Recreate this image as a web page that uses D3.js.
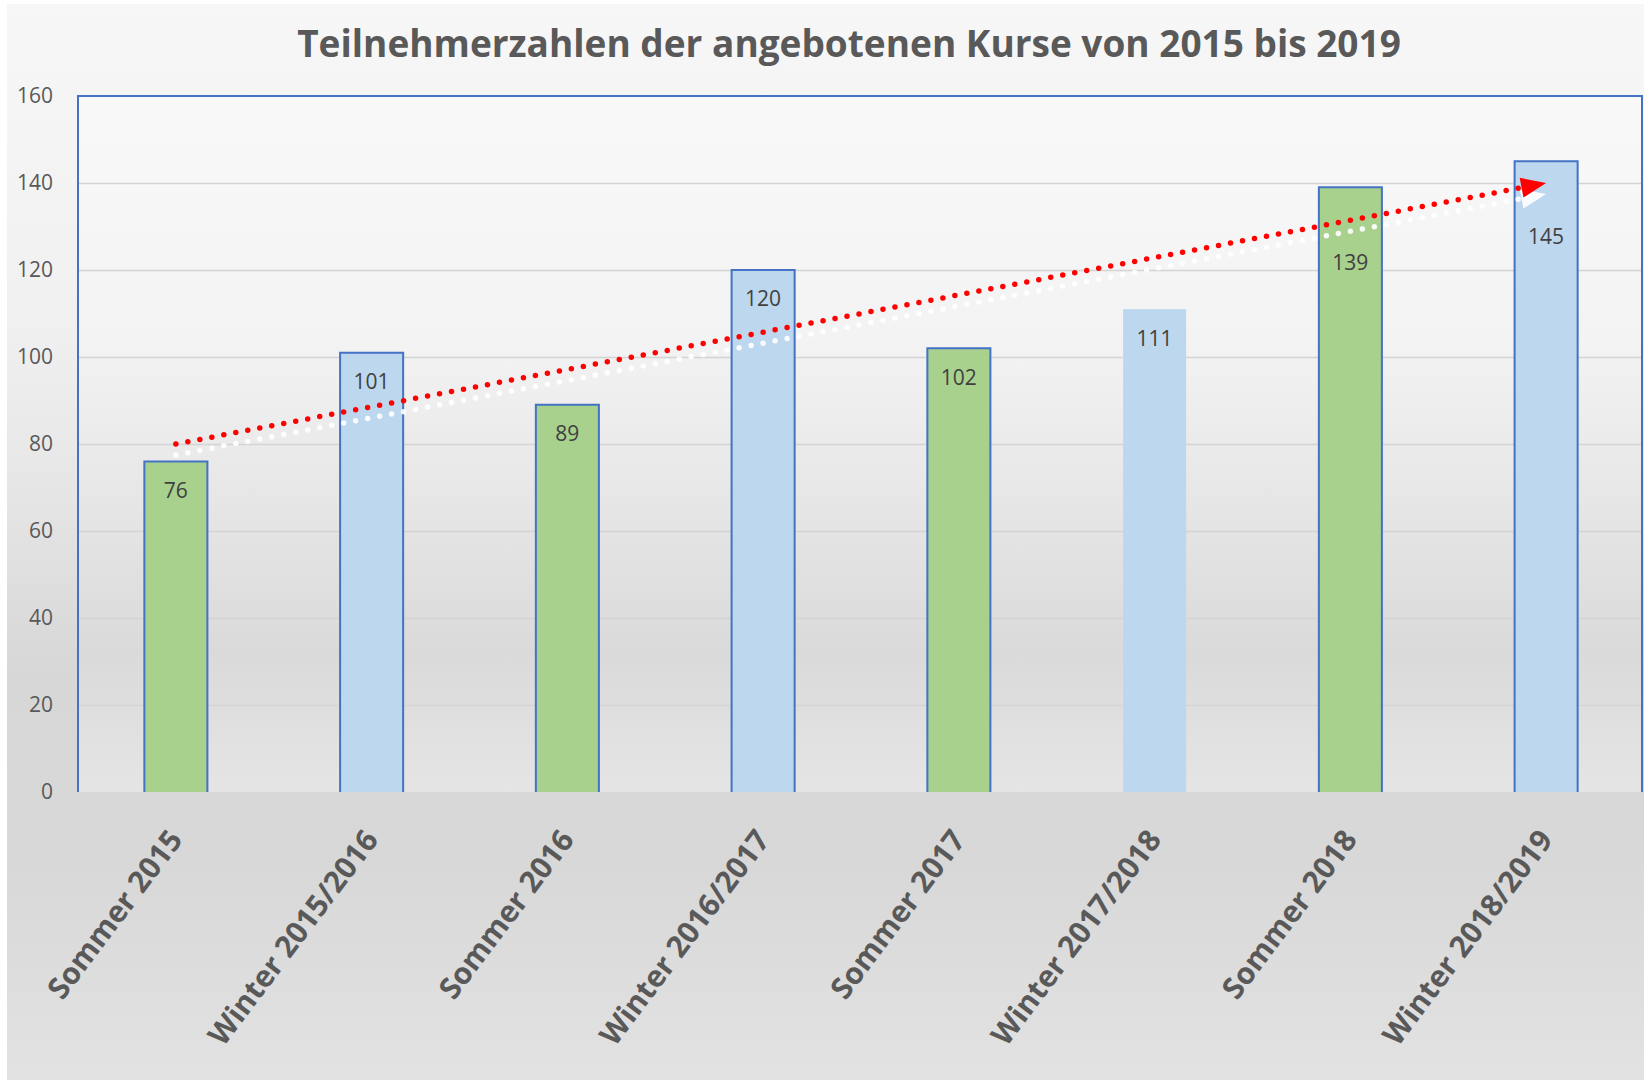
<!DOCTYPE html>
<html>
<head>
<meta charset="utf-8">
<script src="https://cdn.jsdelivr.net/npm/d3@7"></script>
<style>
  html, body { margin: 0; padding: 0; background: #fff; overflow: hidden; }
  text { font-family: "Open Sans", "Noto Sans", sans-serif; }
</style>
</head>
<body>
<svg id="chart" width="1644" height="1080"></svg>
<script>
// Daten
const title = "Teilnehmerzahlen der angebotenen Kurse von 2015 bis 2019";
const categories = ["Sommer 2015", "Winter 2015/2016", "Sommer 2016", "Winter 2016/2017",
                    "Sommer 2017", "Winter 2017/2018", "Sommer 2018", "Winter 2018/2019"];
const participants = [76, 101, 89, 120, 102, 111, 139, 145];
const yTicks = [0, 20, 40, 60, 80, 100, 120, 140, 160];
// Trendpfeil (Start/Ende als Kategorie + Wert)
const trendStart = ["Sommer 2015", 80];
const trendEnd = ["Winter 2018/2019", 140];

// Styles
const GREEN = "#A9D18E", BLUE = "#BDD7EE", EDGE = "#4472C4";
const noOutline = new Set(["Winter 2017/2018"]);

const svg = d3.select("#chart");
const W = 1644, H = 1080;
const plot = { left: 78, right: 1642, top: 96, bottom: 792 };

// Verläufe
const defs = svg.append("defs");
function gradient(id, stops) {
  const g = defs.append("linearGradient").attr("id", id)
    .attr("x1", 0).attr("y1", 0).attr("x2", 0).attr("y2", 1);
  stops.forEach(([o, c]) => g.append("stop").attr("offset", o).attr("stop-color", c));
}
gradient("chartBg", [[0, "#F7F7F7"], [0.3, "#F0F0F0"], [0.45, "#E6E6E6"], [0.62, "#D7D7D7"], [0.8, "#D8D8D8"], [1, "#E2E2E2"]]);
gradient("plotBg", [[0, "#F9F9F9"], [0.35, "#F3F3F3"], [0.55, "#E8E8E8"], [0.8, "#DADADA"], [1, "#E5E5E5"]]);

svg.append("rect").attr("x", 7).attr("y", 4).attr("width", W - 7).attr("height", H - 4)
  .attr("fill", "url(#chartBg)");
svg.append("rect").attr("x", plot.left).attr("y", plot.top)
  .attr("width", plot.right - plot.left).attr("height", plot.bottom - plot.top)
  .attr("fill", "url(#plotBg)");

// Skalen
const x = d3.scaleBand().domain(categories).range([plot.left, 1644])
  .paddingInner(0.678).paddingOuter(0.339);
const y = d3.scaleLinear().domain([0, 160]).range([plot.bottom, plot.top]);
const cx = c => x(c) + x.bandwidth() / 2;

// Gitternetz
const grid = svg.append("g").attr("transform", `translate(${plot.left},0)`)
  .call(d3.axisLeft(y).tickValues(yTicks.filter(v => v > 0 && v < 160))
    .tickSize(-(plot.right - plot.left)).tickFormat(""));
grid.select(".domain").remove();
grid.selectAll("line").attr("stroke", "#D4D4D4").attr("stroke-width", 1.5);

// y-Achse Beschriftung
const yAxis = svg.append("g").attr("transform", `translate(${plot.left},0)`)
  .call(d3.axisLeft(y).tickValues(yTicks).tickSize(0).tickPadding(25));
yAxis.select(".domain").remove();
yAxis.selectAll("text").attr("font-size", 21).attr("fill", "#595959")
  .attr("font-family", "Open Sans");

// Säulen
const bars = svg.append("g");
const data = categories.map((c, i) => ({ cat: c, value: participants[i] }));
bars.selectAll("rect").data(data).enter().append("rect")
  .attr("x", d => x(d.cat)).attr("y", d => y(d.value))
  .attr("width", x.bandwidth()).attr("height", d => y(0) - y(d.value))
  .attr("fill", d => d.cat.startsWith("Sommer") ? GREEN : BLUE);
bars.selectAll("path").data(data.filter(d => !noOutline.has(d.cat))).enter().append("path")
  .attr("d", d => {
    const x0 = x(d.cat), x1 = x0 + x.bandwidth();
    return `M${x0},${y(0)} L${x0},${y(d.value)} L${x1},${y(d.value)} L${x1},${y(0)}`;
  })
  .attr("fill", "none").attr("stroke", EDGE).attr("stroke-width", 2);

// Rahmen der Zeichnungsfläche (links, oben, rechts)
svg.append("path")
  .attr("d", `M${plot.left},${plot.bottom} L${plot.left},${plot.top} L${plot.right},${plot.top} L${plot.right},${plot.bottom}`)
  .attr("fill", "none").attr("stroke", EDGE).attr("stroke-width", 2);

// Trendpfeil
const p0 = [cx(trendStart[0]), y(trendStart[1])];
const p1 = [cx(trendEnd[0]), y(trendEnd[1])];
const arrowY = px => p0[1] + (p1[1] - p0[1]) * (px - p0[0]) / (p1[0] - p0[0]);
function drawArrow(dy, color) {
  const dx = p1[0] - p0[0], dyy = p1[1] - p0[1];
  const len = Math.hypot(dx, dyy);
  const ux = dx / len, uy = dyy / len, nx = -uy, ny = ux;
  const headL = 25, headW = 10;
  const bx = p1[0] - ux * headL, by = p1[1] - uy * headL;
  svg.append("line")
    .attr("x1", p0[0]).attr("y1", p0[1] + dy).attr("x2", bx).attr("y2", by + dy)
    .attr("stroke", color).attr("stroke-width", 5.5)
    .attr("stroke-linecap", "round").attr("stroke-dasharray", "0 12.2");
  svg.append("path")
    .attr("d", `M${p1[0]},${p1[1] + dy} L${bx + nx * headW},${by + ny * headW + dy} L${bx - nx * headW},${by - ny * headW + dy} Z`)
    .attr("fill", color);
}
drawArrow(11, "rgba(255,255,255,0.9)");
drawArrow(0, "#FF0000");

// Datenbeschriftungen (unter den Pfeil geschoben, wenn sie ihn berühren)
const labelY = d => {
  const ly = y(d.value) + 29;
  return Math.abs(ly - arrowY(cx(d.cat))) < 20 ? ly + 46 : ly;
};
svg.append("g").selectAll("text").data(data).enter().append("text")
  .attr("x", d => cx(d.cat)).attr("y", labelY)
  .attr("dy", "0.35em")
  .attr("text-anchor", "middle").attr("font-size", 21).attr("fill", "#404040")
  .text(d => d.value);

// x-Achse Beschriftung
const xAxis = svg.append("g").attr("transform", `translate(0,${plot.bottom})`)
  .call(d3.axisBottom(x).tickSize(0));
xAxis.select(".domain").remove();
xAxis.selectAll("text")
  .attr("y", 0).attr("dy", 0)
  .attr("transform", "translate(8,48) rotate(-53)")
  .attr("text-anchor", "end")
  .attr("font-size", 30).attr("font-weight", 700)
  .attr("font-family", "Open Sans").attr("fill", "#595959");

// Titel
svg.append("text").attr("x", 849).attr("y", 57)
  .attr("text-anchor", "middle").attr("font-size", 37).attr("font-weight", 700)
  .attr("fill", "#595959").text(title);
</script>
</body>
</html>
